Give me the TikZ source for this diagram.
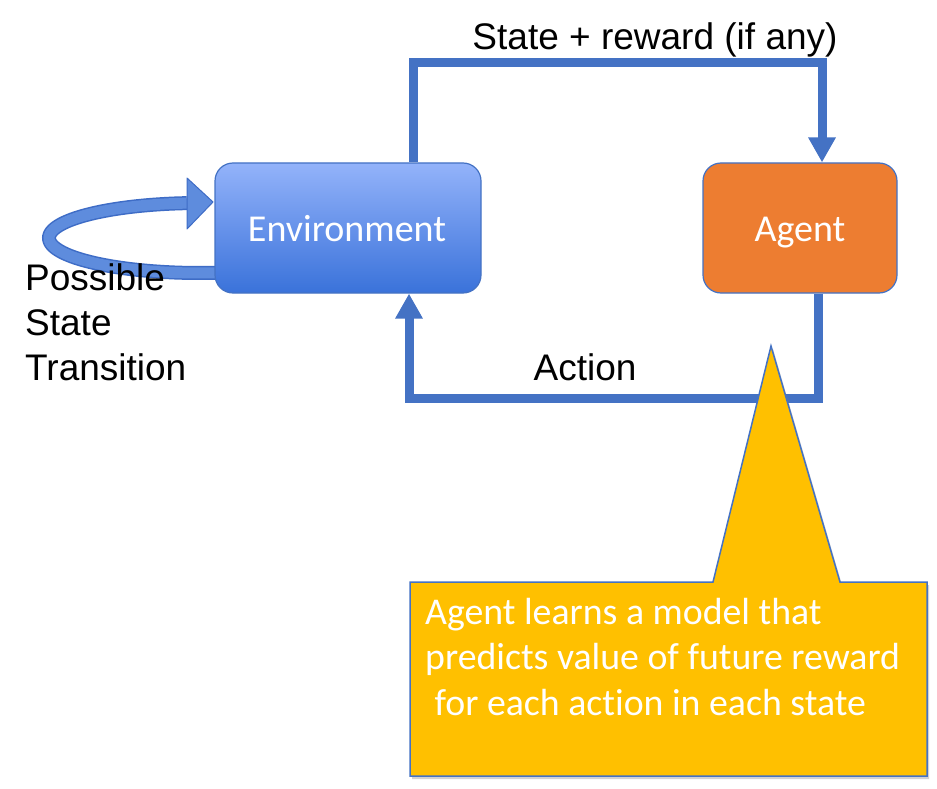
\documentclass[tikz,border=0pt]{standalone}
\usepackage{fontspec}
\setmainfont{Liberation Sans}
\newfontfamily\calib[Ligatures=NoCommon]{Carlito}
\usetikzlibrary{arrows.meta,shadows}
\definecolor{lineblue}{HTML}{4472C4}
\definecolor{envtop}{HTML}{93B3FA}
\definecolor{envbot}{HTML}{3A72DA}
\definecolor{agentor}{HTML}{ED7D31}
\definecolor{callyel}{HTML}{FFC000}
\definecolor{loopfill}{HTML}{5E8CDD}
\definecolor{loopedge}{HTML}{3E6CC6}
\begin{document}
\begin{tikzpicture}[x=1pt,y=-1pt,
  conn/.style={draw=lineblue, line width=9pt, line join=miter, -{Triangle[width=26pt,length=25pt]}},
  boxtxt/.style={text=white, font=\calib\fontsize{38}{45}\selectfont},
  blk/.style={font=\fontsize{37}{45}\selectfont, inner sep=0pt},
  envbox/.style={draw=lineblue, line width=1.2pt, rounded corners=18pt, top color=envtop, bottom color=envbot, minimum width=266pt, minimum height=130pt, inner sep=0pt},
  agentbox/.style={draw=lineblue, line width=1.2pt, rounded corners=18pt, fill=agentor, minimum width=194pt, minimum height=130pt, inner sep=0pt}]
\useasboundingbox[fill=white] (0,0) rectangle (937,789);

% self-loop band
\draw[loopedge, line width=14pt] plot[domain=95:276, samples=80, smooth] ({200+151*cos(\x)}, {238-35*sin(\x)});
\draw[loopfill, line width=11pt] plot[domain=95:276, samples=80, smooth] ({200+151*cos(\x)}, {238-35*sin(\x)});
\coordinate (looptip) at (213,202);
\filldraw[fill=loopfill, draw=loopedge, line width=1pt, line join=round] (looptip) -- (187,178) -- (187,229) -- cycle;

% boxes
\node[envbox] (env) at (348,228) {};
\node[agentbox] (agent) at (800,228) {};
\node[boxtxt, anchor=base] (envt) at (347,241) {Environment};
\node[boxtxt, anchor=base] (agentt) at (800,241) {Agent};

% connectors
\coordinate (tl) at (413,63);
\draw[conn] (env.north -| tl) |- ([xshift=22pt]agent.north |- tl) -- ([xshift=22pt]agent.north);
\coordinate (bl) at (409,398);
\draw[conn] ([xshift=18pt]agent.south) |- (bl) -- (env.south -| bl);

% callout
\draw[draw=lineblue, line width=1.5pt, fill=callyel, line join=miter,
  drop shadow={shadow xshift=2pt, shadow yshift=-3pt, opacity=0.35}]
  (410,582) -- (713,582) -- (771,346) -- (840,582) -- (927,582) -- (927,776) -- (410,776) -- cycle;
\node[blk, anchor=north west, align=left, text=white, font=\calib\fontsize{37.8}{45.5}\selectfont] (callt) at (425,598)
  {Agent learns a model that\\predicts value of future reward\\\hspace*{0.25em}for each action in each state};

% labels
\node[blk, anchor=base] (srl) at (655,50) {State + reward (if any)};
\node[blk, anchor=base] (actl) at (585,380) {Action};
\node[blk, anchor=north west, align=left] (pst) at (25,263) {Possible\\State\\Transition};
\end{tikzpicture}
\end{document}
